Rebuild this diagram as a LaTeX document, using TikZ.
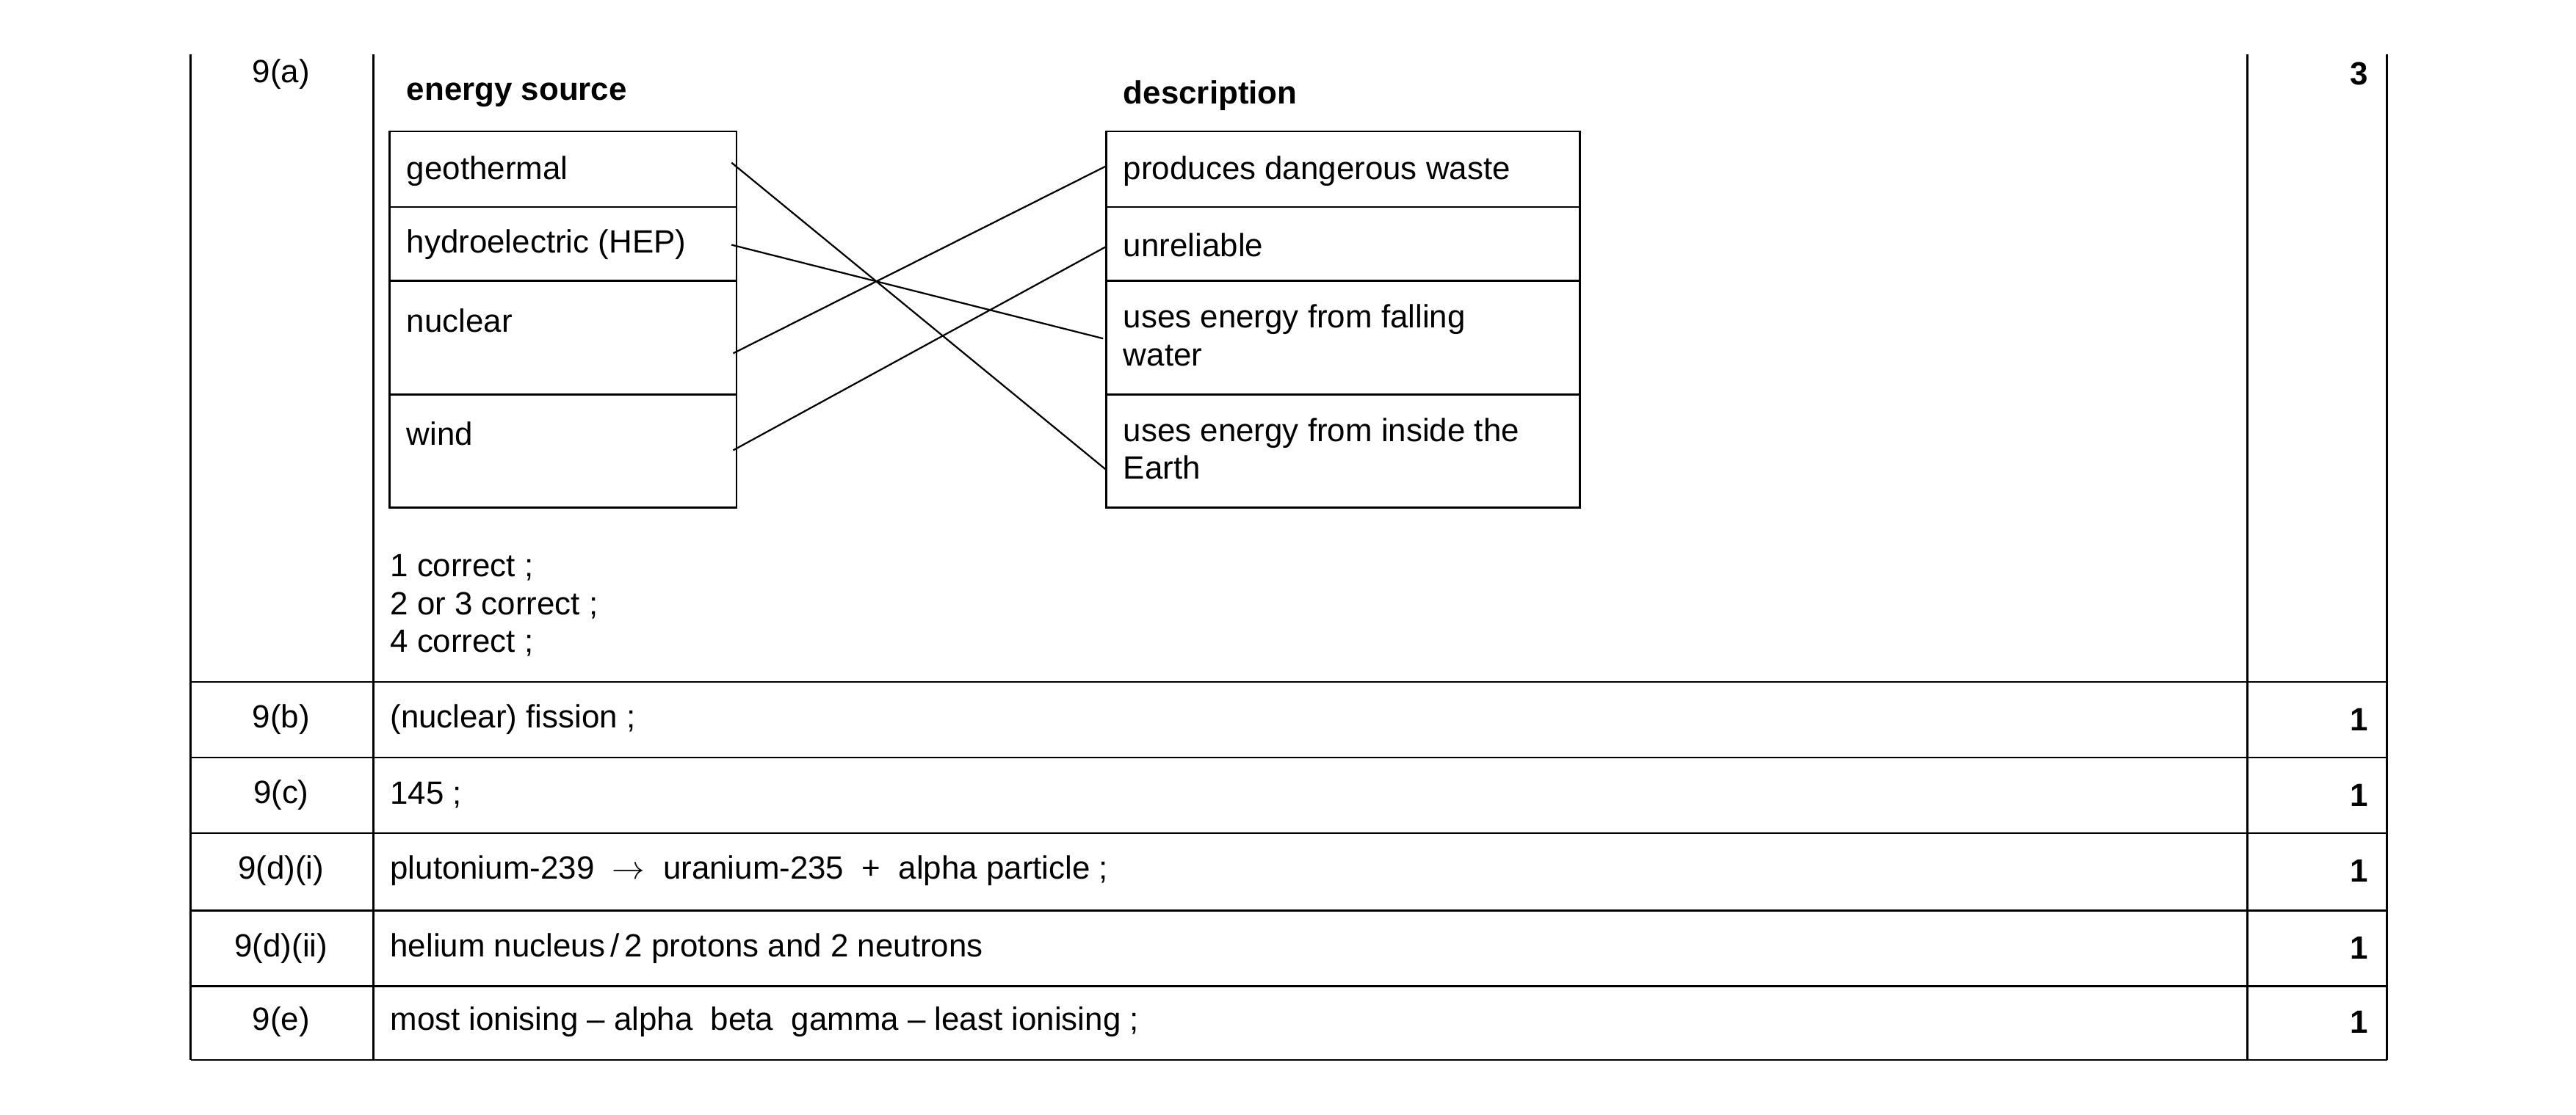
\documentclass[tikz,border=0pt]{standalone}
\usepackage{fontspec}
\setmainfont{Liberation Sans}
\usetikzlibrary{positioning}

\begin{document}
\begin{tikzpicture}[x=0.5pt,y=-0.5pt]

% Define styles
\tikzset{cell/.style={font=\fontsize{9.8}{11.5}\selectfont, inner sep=0pt},
  txt/.style={cell, anchor=west},
  score/.style={cell, font=\fontsize{9.8}{11.5}\selectfont\bfseries, anchor=east},
  qlabel/.style={cell},
  rule/.style={line width=0.6pt},
  link/.style={line width=0.5pt}}

\useasboundingbox (0,0) rectangle (1567,678.1);

% Table frame
\foreach \x in {116,227,1367,1452} {
  \draw[rule] (\x,33) -- (\x,645);
}
\foreach \y in {415,461,507,554,600,645} {
  \draw[rule] (116,\y) -- (1452,\y);
}

% Row labels and marks
\node[qlabel] (q0) at (171,45) {9(a)};
\node[score] (m0) at (1441,45) {3};
\foreach \y/\q/\t [count=\i] in {438/9(b)/{(nuclear) fission ;}, 484/9(c)/{145 ;},
  530/9(d)(i)/{plutonium-239 \ $\rightarrow$ \ uranium-235 \ + \ alpha particle ;},
  577/9(d)(ii)/{helium nucleus\,/\,2 protons and 2 neutrons},
  622/9(e)/{most ionising -- alpha \ beta \ gamma -- least ionising ;}} {
  \node[qlabel] (q\i) at (171,\y) {\q};
  \node[txt] (a\i) at (237,\y) {\t};
  \node[score] (m\i) at (1441,\y) {1};
}

% Headers
\node[txt, font=\fontsize{9.8}{11.5}\selectfont\bfseries] (hsrc) at (247,58) {energy source};
\node[txt, font=\fontsize{9.8}{11.5}\selectfont\bfseries] (hdesc) at (683,58) {description};

% Boxes
\foreach \x/\w in {237/448,673/961} {
  \draw[rule] (\x,80) rectangle (\w,309);
  \foreach \y in {126,171,240} {
    \draw[rule] (\x,\y) -- (\w,\y);
  }
}

% Energy sources
\node[txt] (geo) at (247,104) {geothermal};
\node[txt] (hep) at (247,149) {hydroelectric (HEP)};
\node[txt] (nuc) at (247,195) {nuclear};
\node[txt] (wind) at (247,264) {wind};

% Descriptions
\node[txt] (waste) at (683,104) {produces dangerous waste};
\node[txt] (unrel) at (683,149) {unreliable};
\node[txt, align=left, anchor=north west] (fall) at (683,185) {uses energy from falling\\water};
\node[txt, align=left, anchor=north west] (earth) at (683,254) {uses energy from inside the\\Earth};

% Connector ends
\coordinate (geoR) at (445,99);
\coordinate (hepR) at (445,149);
\coordinate (nucR) at (446,215);
\coordinate (windR) at (446,274);
\coordinate (wasteL) at (673,101);
\coordinate (unrelL) at (673,150);
\coordinate (fallL) at (671,206);
\coordinate (earthL) at (673,286);

\draw[link] (geoR) -- (earthL);
\draw[link] (hepR) -- (fallL);
\draw[link] (nucR) -- (wasteL);
\draw[link] (windR) -- (unrelL);

% Marking notes
\node[txt, align=left, anchor=north west] (notes) at (237,337) {1 correct ;\\2 or 3 correct ;\\4 correct ;};

\end{tikzpicture}
\end{document}
